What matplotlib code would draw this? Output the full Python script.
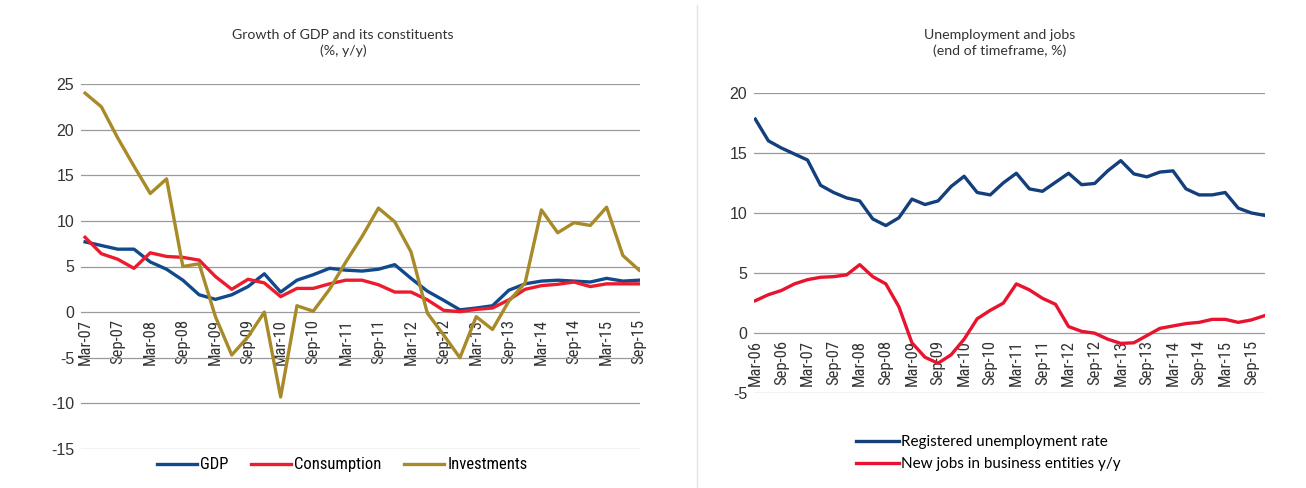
import matplotlib
matplotlib.use("Agg")
import matplotlib.pyplot as plt
import numpy as np

NARROW = ['Liberation Sans Narrow', 'DejaVu Sans Condensed', 'Roboto Condensed', 'Liberation Sans', 'DejaVu Sans']
plt.rcParams['font.family'] = NARROW
plt.rcParams['axes.unicode_minus'] = False

# ---------------- Left chart data (quarterly, Mar-07 .. Sep-15) ----------------
left_labels = ["Mar-07", "Sep-07", "Mar-08", "Sep-08", "Mar-09", "Sep-09", "Mar-10",
               "Sep-10", "Mar-11", "Sep-11", "Mar-12", "Sep-12", "Mar-13", "Sep-13",
               "Mar-14", "Sep-14", "Mar-15", "Sep-15"]
gdp = [7.7, 7.3, 6.9, 6.9, 5.5, 4.7, 3.5, 1.9, 1.4, 1.9, 2.8, 4.2, 2.2, 3.5, 4.1, 4.8,
       4.6, 4.5, 4.7, 5.2, 3.7, 2.3, 1.3, 0.25, 0.45, 0.7, 2.4, 3.1, 3.4, 3.5, 3.4, 3.3,
       3.7, 3.4, 3.5]
consumption = [8.2, 6.4, 5.8, 4.8, 6.5, 6.1, 6.0, 5.7, 3.9, 2.5, 3.6, 3.2, 1.7, 2.6, 2.6,
               3.1, 3.5, 3.5, 3.0, 2.2, 2.2, 1.35, 0.2, 0.05, 0.3, 0.45, 1.35, 2.5, 2.9,
               3.05, 3.3, 2.8, 3.1, 3.1, 3.1]
investments = [24.0, 22.5, 19.1, 16.0, 13.0, 14.6, 5.0, 5.3, -0.5, -4.7, -2.7, 0.0, -9.3,
               0.7, 0.1, 2.5, 5.5, 8.3, 11.4, 9.9, 6.6, -0.1, -2.5, -5.0, -0.5, -1.9,
               1.2, 3.2, 11.2, 8.7, 9.8, 9.5, 11.5, 6.2, 4.6]

# ---------------- Right chart data (quarterly, Mar-06 .. Dec-15) ----------------
right_labels = ["Mar-06", "Sep-06", "Mar-07", "Sep-07", "Mar-08", "Sep-08", "Mar-09",
                "Sep-09", "Mar-10", "Sep-10", "Mar-11", "Sep-11", "Mar-12", "Sep-12",
                "Mar-13", "Sep-13", "Mar-14", "Sep-14", "Mar-15", "Sep-15"]
unemployment = [17.8, 16.0, 15.4, 14.9, 14.4, 12.3, 11.7, 11.25, 11.0, 9.5, 8.95, 9.6,
                11.15, 10.7, 11.0, 12.2, 13.05, 11.7, 11.5, 12.5, 13.3, 12.0, 11.8, 12.55,
                13.3, 12.35, 12.45, 13.5, 14.35, 13.25, 13.0, 13.4, 13.5, 12.0, 11.5,
                11.5, 11.7, 10.4, 10.0, 9.8]
new_jobs = [2.7, 3.2, 3.55, 4.1, 4.45, 4.65, 4.7, 4.85, 5.7, 4.7, 4.1, 2.2, -0.8, -2.0,
            -2.5, -1.8, -0.5, 1.2, 1.9, 2.5, 4.1, 3.6, 2.9, 2.4, 0.55, 0.15, 0.0, -0.5,
            -0.85, -0.8, -0.2, 0.4, 0.6, 0.8, 0.9, 1.15, 1.15, 0.9, 1.1, 1.45]

C_GDP = "#114A8C"
C_CONS = "#EC1C2E"
C_INV = "#A88A28"
C_UNEMP = "#133F7C"
C_JOBS = "#E8132E"
GRID = "#9A9A9A"
TXT = "#333333"
TITLE_FONT = ['Lato', 'DejaVu Sans']

fig = plt.figure(figsize=(13.06, 4.88), dpi=100)

def style(ax, ymin, ymax, step, xticks, xlabels):
    ax.set_ylim(ymin, ymax)
    ax.set_yticks(np.arange(ymin, ymax + 0.1, step))
    ax.yaxis.grid(True, color=GRID, linewidth=0.9)
    ax.set_axisbelow(True)
    for s in ['left', 'right', 'top']:
        ax.spines[s].set_visible(False)
    ax.spines['bottom'].set_position(('data', 0))
    ax.spines['bottom'].set_visible(False)
    ax.tick_params(axis='both', length=0, colors=TXT)
    ax.tick_params(axis='y', labelsize=11.5, pad=5)
    ax.tick_params(axis='x', labelsize=12, pad=5, labelrotation=90)
    ax.set_xticks(xticks)
    ax.set_xticklabels(xlabels)
    for lab in ax.get_xticklabels():
        lab.set_rotation(90)
        lab.set_va('top')
        lab.set_ha('center')
    for lab in ax.get_yticklabels():
        lab.set_family(['Liberation Sans', 'DejaVu Sans'])

# Left chart
axL = fig.add_axes([81/1306, 1-449/488, 559/1306, (449-84)/488])
xl = np.arange(len(gdp))
axL.plot(xl, gdp, color=C_GDP, lw=2.4, label="GDP", solid_joinstyle='round')
axL.plot(xl, consumption, color=C_CONS, lw=2.4, label="Consumption", solid_joinstyle='round')
axL.plot(xl, investments, color=C_INV, lw=2.4, label="Investments", solid_joinstyle='round')
axL.set_xlim(-0.25, len(gdp) - 0.95)
style(axL, -15, 25, 5, xl[::2], left_labels)
axL.legend(loc='upper center', bbox_to_anchor=(0.467, -0.0), ncol=3, frameon=False,
           fontsize=12, handlelength=2.4, handletextpad=0.2, columnspacing=1.35,
           borderaxespad=0.1)
fig.text(343/1306, 1-43/488, "Growth of GDP and its constituents\n(%, y/y)",
         ha='center', va='center', fontsize=10.2, color=TXT, family=TITLE_FONT,
         linespacing=1.25)

# Right chart
axR = fig.add_axes([754/1306, 1-393.3/488, (1265-754)/1306, (393.3-92.7)/488])
xr = np.arange(len(unemployment))
axR.plot(xr, unemployment, color=C_UNEMP, lw=2.4, label="Registered unemployment rate",
         solid_joinstyle='round')
axR.plot(xr, new_jobs, color=C_JOBS, lw=2.4, label="New jobs in business entities y/y",
         solid_joinstyle='round')
axR.set_xlim(-0.1, len(unemployment) - 0.95)
style(axR, -5, 20, 5, xr[::2], right_labels)
leg = axR.legend(loc='upper left', bbox_to_anchor=(96/511, -0.12), ncol=1,
                 frameon=False, fontsize=11, handlelength=2.8, handletextpad=0.15,
                 labelspacing=0.5, borderaxespad=0)
for t in leg.get_texts():
    t.set_family(TITLE_FONT)
fig.text(1000/1306, 1-43/488, "Unemployment and jobs\n(end of timeframe, %)",
         ha='center', va='center', fontsize=10.2, color=TXT, family=TITLE_FONT,
         linespacing=1.25)

# faint separator
fig.add_artist(plt.Line2D([697/1306, 697/1306], [0.0, 0.99], color="#E4E4E4", lw=1))

fig.savefig("out.png", dpi=100, facecolor='white')
